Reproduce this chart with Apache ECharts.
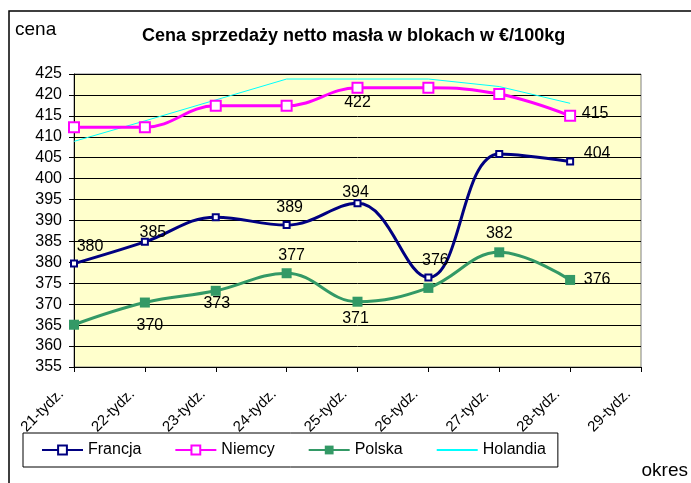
<!DOCTYPE html>
<html>
<head>
<meta charset="utf-8">
<script src="https://cdn.jsdelivr.net/npm/echarts@6/dist/echarts.min.js"></script>
<style>
html,body{margin:0;padding:0;background:#fff;}
#c{width:691px;height:483px;}
</style>
</head>
<body>
<div id="c"></div>
<script>
const categories = ['21-tydz.', '22-tydz.', '23-tydz.', '24-tydz.', '25-tydz.', '26-tydz.', '27-tydz.', '28-tydz.', '29-tydz.'];
const francja  = [379.7, 384.9, 390.8, 388.9, 394.1, 376.4, 405.9, 404.1];
const niemcy   = [412.3, 412.3, 417.4, 417.4, 421.7, 421.7, 420.2, 415.0];
const polska   = [365.1, 370.4, 373.2, 377.4, 370.6, 373.9, 382.4, 375.8];
const holandia = [408.9, 413.8, 418.8, 423.8, 423.8, 423.8, 422.0, 418.0];
const seriesNames = ['Francja', 'Niemcy', 'Polska', 'Holandia'];
const titleText = 'Cena sprzedaży netto masła w blokach w €/100kg';
const yName = 'cena';
const xName = 'okres';
const yMin = 355, yMax = 425, yStep = 5;

// label placement (style only): offsets from the point, in px
const francjaLabelOffsets = {0: [16, -17], 1: [8, -9], 3: [3, -18], 4: [-2, -11], 5: [7, -17], 7: [27, -8]};
const niemcyLabelOffsets = {4: [0, 15], 7: [25, -2]};
const polskaLabelOffsets = {1: [5, 23], 2: [1, 13], 3: [5, -18], 4: [-2, 17], 6: [0, -19], 7: [27, 0]};

const FONT = 'Liberation Sans, Arial, sans-serif';

function withLabels(values, offsets) {
  return values.map((v, i) => ({
    value: v,
    label: offsets[i] ? {show: true, position: 'inside', offset: offsets[i]} : {show: false}
  }));
}
const labelStyle = {
  color: '#000', fontFamily: FONT, fontSize: 16,
  formatter: p => String(Math.round(p.value))
};

const chart = echarts.init(document.getElementById('c'), null, {renderer: 'canvas'});
chart.setOption({
  animation: false,
  backgroundColor: '#fff',
  title: {
    text: titleText, left: 142, top: 27, padding: 0,
    textStyle: {fontFamily: FONT, fontSize: 18, fontWeight: 'bold', color: '#000'}
  },
  legend: {
    data: [
      {name: 'Francja'},
      {name: 'Niemcy'},
      {name: 'Polska'},
      {name: 'Holandia', itemStyle: {opacity: 0}}
    ],
    left: 23, top: 433,
    orient: 'horizontal',
    itemWidth: 41, itemHeight: 11, itemGap: 33,
    padding: [9, 12, 9, 18],
    borderColor: '#000', borderWidth: 1,
    backgroundColor: '#fff',
    textStyle: {fontFamily: FONT, fontSize: 16, color: '#000'}
  },
  graphic: [
    {type: 'rect', shape: {x: 9, y: 11, width: 800, height: 600}, style: {fill: 'none', stroke: '#000', lineWidth: 1.5}, silent: true, z: -10},
    {type: 'text', x: 15, y: 30, style: {text: yName, fontFamily: FONT, fontSize: 19, fill: '#000', textVerticalAlign: 'middle'}},
    {type: 'text', x: 688, y: 471, style: {text: xName, fontFamily: FONT, fontSize: 19, fill: '#000', textAlign: 'right', textVerticalAlign: 'middle'}}
  ],
  grid: {left: 74, right: 50, top: 74, bottom: 116, show: true, backgroundColor: '#FFFFCC', borderColor: '#808080', borderWidth: 1},
  xAxis: {
    type: 'category', data: categories, boundaryGap: false,
    axisLine: {lineStyle: {color: '#000', width: 1}},
    axisTick: {show: true, length: 5, interval: 0, lineStyle: {color: '#000'}},
    axisLabel: {interval: 0, rotate: 45, margin: 12, padding: [0, 18, 0, 0], fontFamily: FONT, fontSize: 15, color: '#000'},
    splitLine: {show: false}
  },
  yAxis: {
    type: 'value', min: yMin, max: yMax, interval: yStep,
    axisLine: {show: true, lineStyle: {color: '#000', width: 1}},
    axisTick: {show: true, length: 5, lineStyle: {color: '#000'}},
    axisLabel: {margin: 12, fontFamily: FONT, fontSize: 16, color: '#000'},
    splitLine: {show: true, lineStyle: {color: '#000', width: 1}}
  },
  series: [
    {
      name: 'Francja', type: 'line', smooth: 0.4, data: withLabels(francja, francjaLabelOffsets),
      symbol: 'emptyRect', symbolSize: 6, color: '#000080',
      lineStyle: {color: '#000080', width: 3}, itemStyle: {color: '#000080', borderWidth: 1.5},
      label: labelStyle, z: 4
    },
    {
      name: 'Niemcy', type: 'line', smooth: 0.4, data: withLabels(niemcy, niemcyLabelOffsets),
      symbol: 'emptyRect', symbolSize: 10, color: '#FF00FF',
      lineStyle: {color: '#FF00FF', width: 3}, itemStyle: {color: '#FF00FF', borderWidth: 1.5},
      label: labelStyle, z: 3
    },
    {
      name: 'Polska', type: 'line', smooth: 0.4, data: withLabels(polska, polskaLabelOffsets),
      symbol: 'rect', symbolSize: 10, color: '#339966',
      lineStyle: {color: '#339966', width: 3}, itemStyle: {color: '#339966'},
      label: labelStyle, z: 4
    },
    {
      name: 'Holandia', type: 'line', smooth: false, data: holandia,
      symbol: 'none', color: '#00FFFF',
      lineStyle: {color: '#00FFFF', width: 1}, z: 2
    }
  ]
});
</script>
</body>
</html>
